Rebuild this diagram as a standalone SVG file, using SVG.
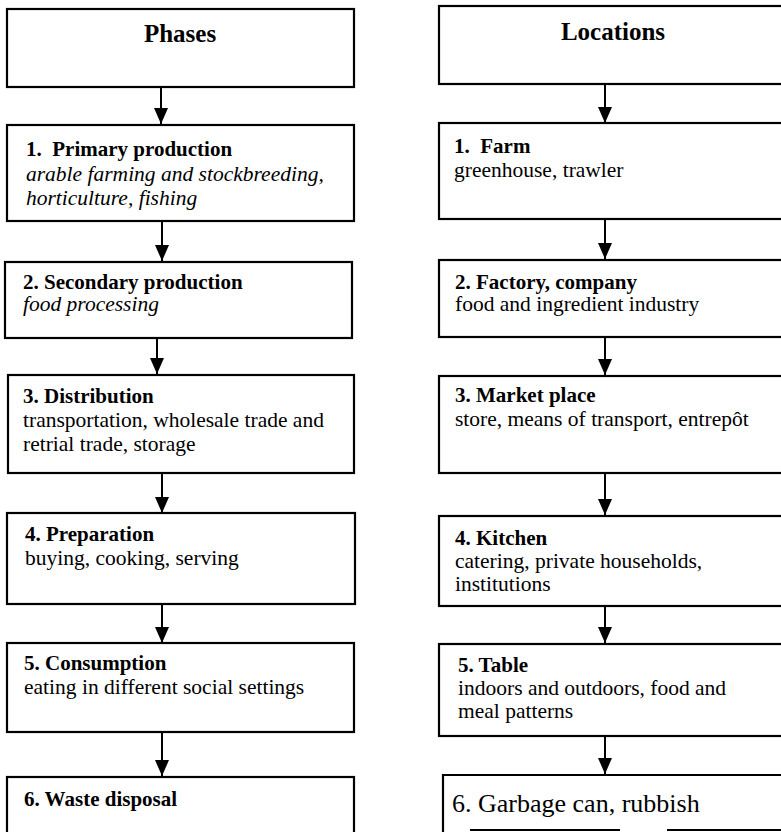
<svg xmlns="http://www.w3.org/2000/svg" width="781" height="832" viewBox="0 0 781 832">
  <style>
    .box { fill: #fff; stroke: #000; stroke-width: 2.2; }
    .edge { fill: none; stroke: #000; stroke-width: 2.2; }
    .link { stroke: #000; stroke-width: 2; fill: none; marker-end: url(#head); }
    text { font-family: "Liberation Serif", "Times New Roman", serif; fill: #000; white-space: pre; }
    .head { font-size: 25px; font-weight: bold; text-anchor: middle; }
    .title { font-size: 21px; font-weight: bold; }
    .body { font-size: 21.5px; }
    .ital { font-size: 21.5px; font-style: italic; }
    .big { font-size: 26px; }
  </style>
  <defs>
    <marker id="head" markerUnits="userSpaceOnUse" markerWidth="16" markerHeight="18" refX="16" refY="7" orient="auto">
      <path d="M0,0 L16,7 L0,14 Z" fill="#000"/>
    </marker>
  </defs>

  <rect width="781" height="832" fill="#fff"/>

  <!-- connectors -->
  <g id="connectors">
    <line class="link" x1="161" y1="87" x2="161" y2="124"/>
    <line class="link" x1="162" y1="221" x2="162" y2="261"/>
    <line class="link" x1="157" y1="338" x2="157" y2="374"/>
    <line class="link" x1="162" y1="473" x2="162" y2="513"/>
    <line class="link" x1="162" y1="604" x2="162" y2="643"/>
    <line class="link" x1="162" y1="732" x2="162" y2="776"/>

    <line class="link" x1="605" y1="84" x2="605" y2="123"/>
    <line class="link" x1="605" y1="219" x2="605" y2="259"/>
    <line class="link" x1="605" y1="337" x2="605" y2="375"/>
    <line class="link" x1="605" y1="473" x2="605" y2="515"/>
    <line class="link" x1="605" y1="606" x2="605" y2="643"/>
    <line class="link" x1="605" y1="736" x2="605" y2="774"/>
  </g>

  <!-- phases column -->
  <g id="phases">
    <rect class="box" x="7" y="9" width="347" height="78"/>
    <text class="head" x="180" y="42">Phases</text>
  </g>
  <g id="phase1">
    <rect class="box" x="7" y="125" width="347" height="96"/>
    <text class="title" x="26" y="156">1.  Primary production</text>
    <text class="ital" x="26" y="181">arable farming and stockbreeding,</text>
    <text class="ital" x="26" y="205">horticulture, fishing</text>
  </g>
  <g id="phase2">
    <rect class="box" x="5" y="262" width="347" height="76"/>
    <text class="title" x="23" y="289">2. Secondary production</text>
    <text class="ital" x="23" y="311">food processing</text>
  </g>
  <g id="phase3">
    <rect class="box" x="8" y="375" width="346" height="98"/>
    <text class="title" x="23" y="403">3. Distribution</text>
    <text class="body" x="23" y="427">transportation, wholesale trade and</text>
    <text class="body" x="23" y="451">retrial trade, storage</text>
  </g>
  <g id="phase4">
    <rect class="box" x="7" y="513" width="348" height="91"/>
    <text class="title" x="25" y="541">4. Preparation</text>
    <text class="body" x="25" y="565">buying, cooking, serving</text>
  </g>
  <g id="phase5">
    <rect class="box" x="7" y="643" width="347" height="89"/>
    <text class="title" x="24" y="670">5. Consumption</text>
    <text class="body" x="24" y="694">eating in different social settings</text>
  </g>
  <g id="phase6">
    <rect class="box" x="7" y="777" width="347" height="60"/>
    <text class="title" x="24" y="806">6. Waste disposal</text>
  </g>

  <!-- locations column -->
  <g id="locations">
    <rect class="box" x="439" y="6" width="348" height="78"/>
    <text class="head" x="613" y="40">Locations</text>
  </g>
  <g id="loc1">
    <rect class="box" x="439" y="123" width="348" height="96"/>
    <text class="title" x="454" y="153">1.  Farm</text>
    <text class="body" x="454" y="177">greenhouse, trawler</text>
  </g>
  <g id="loc2">
    <rect class="box" x="439" y="260" width="348" height="77"/>
    <text class="title" x="455" y="289">2. Factory, company</text>
    <text class="body" x="455" y="311">food and ingredient industry</text>
  </g>
  <g id="loc3">
    <rect class="box" x="439" y="376" width="348" height="97"/>
    <text class="title" x="455" y="402">3. Market place</text>
    <text class="body" x="455" y="426">store, means of transport, entrepôt</text>
  </g>
  <g id="loc4">
    <rect class="box" x="439" y="516" width="348" height="90"/>
    <text class="title" x="455" y="545">4. Kitchen</text>
    <text class="body" x="455" y="568">catering, private households,</text>
    <text class="body" x="455" y="591">institutions</text>
  </g>
  <g id="loc5">
    <rect class="box" x="439" y="644" width="348" height="92"/>
    <text class="title" x="458" y="672">5. Table</text>
    <text class="body" x="458" y="695">indoors and outdoors, food and</text>
    <text class="body" x="458" y="718">meal patterns</text>
  </g>
  <g id="loc6">
    <!-- open box: sides and top, bottom rule drawn in broken pieces -->
    <rect x="443" y="775" width="344" height="55" fill="#fff"/>
    <path class="edge" d="M443,834 V775 H787"/>
    <path class="edge" d="M470,830 H620 M667,830 H787"/>
    <text class="big" x="452" y="812">6. Garbage can, rubbish</text>
  </g>
</svg>
